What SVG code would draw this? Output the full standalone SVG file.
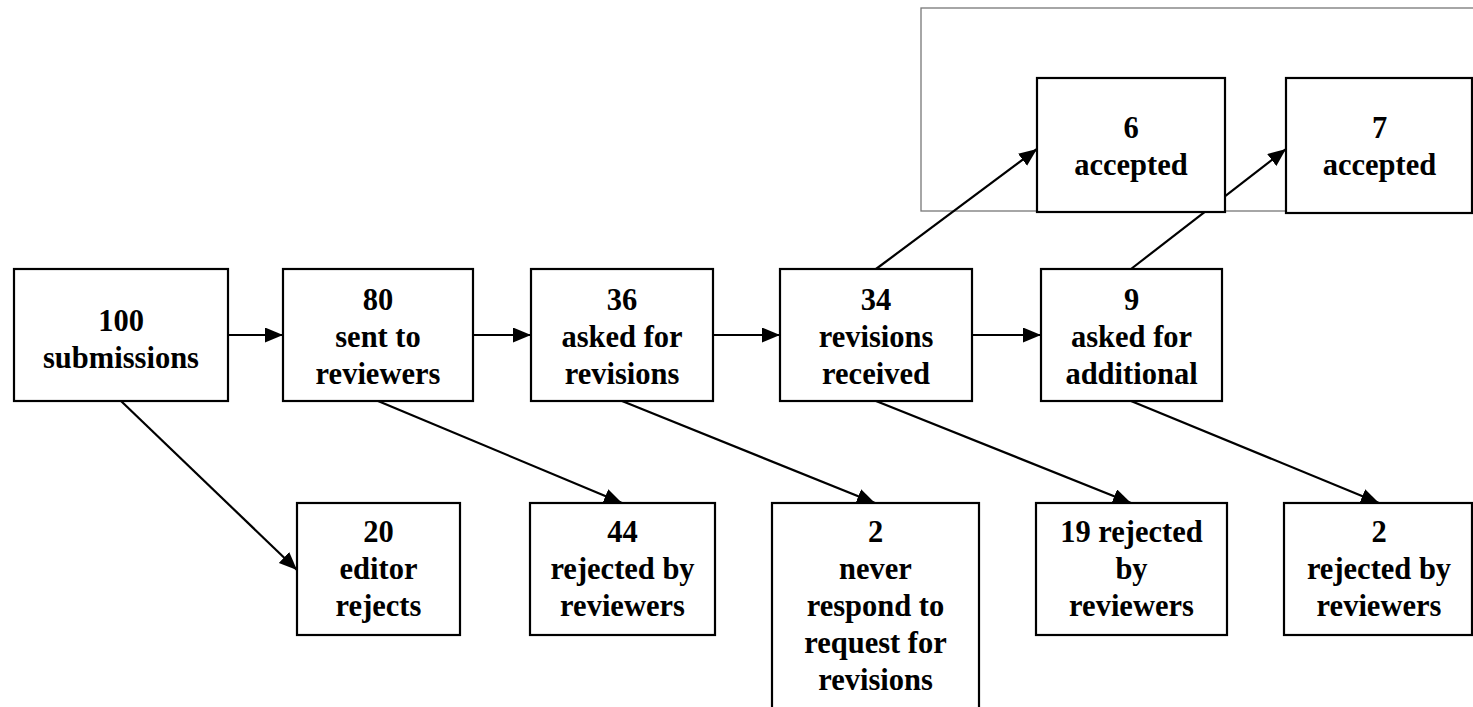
<svg xmlns="http://www.w3.org/2000/svg" width="1473" height="707" viewBox="0 0 1473 707">
<defs>
<marker id="ah" markerUnits="userSpaceOnUse" markerWidth="20" markerHeight="16" refX="18" refY="7.5" orient="auto">
<path d="M0,0 L18,7.5 L0,15 z" fill="#000"/>
</marker>
<style>
.box{fill:#fff;stroke:#000;stroke-width:2.2}
.frame{fill:none;stroke:#777;stroke-width:1.3}
.c{stroke:#000;stroke-width:2.2;fill:none;marker-end:url(#ah)}
.t{font-family:"Liberation Serif","Times New Roman",serif;font-size:30.5px;font-weight:bold;fill:#000;text-anchor:middle}
</style>
</defs>
<rect width="1473" height="707" fill="#fff"/>
<rect class="frame" x="921" y="8" width="560" height="203"/>
<g id="connectors">
<line class="c" x1="228" y1="335" x2="283" y2="335"/>
<line class="c" x1="473" y1="335" x2="531" y2="335"/>
<line class="c" x1="713" y1="335" x2="780" y2="335"/>
<line class="c" x1="972" y1="335" x2="1041" y2="335"/>
<line class="c" x1="121" y1="401" x2="297" y2="570"/>
<line class="c" x1="378" y1="401" x2="622" y2="503"/>
<line class="c" x1="622" y1="401" x2="875" y2="503"/>
<line class="c" x1="876" y1="401" x2="1131" y2="503"/>
<line class="c" x1="1131" y1="401" x2="1379" y2="503"/>
<line class="c" x1="876" y1="269" x2="1037" y2="149"/>
<line class="c" x1="1131" y1="269" x2="1286" y2="149"/>
</g>
<g id="n100">
<rect class="box" x="14" y="269" width="214" height="132"/>
<text class="t" x="121" y="331">100</text>
<text class="t" x="121" y="368">submissions</text>
</g>
<g id="n80">
<rect class="box" x="283" y="269" width="190" height="132"/>
<text class="t" x="378" y="310">80</text>
<text class="t" x="378" y="347">sent to</text>
<text class="t" x="378" y="384">reviewers</text>
</g>
<g id="n36">
<rect class="box" x="531" y="269" width="182" height="132"/>
<text class="t" x="622" y="310">36</text>
<text class="t" x="622" y="347">asked for</text>
<text class="t" x="622" y="384">revisions</text>
</g>
<g id="n34">
<rect class="box" x="780" y="269" width="192" height="132"/>
<text class="t" x="876" y="310">34</text>
<text class="t" x="876" y="347">revisions</text>
<text class="t" x="876" y="384">received</text>
</g>
<g id="n9">
<rect class="box" x="1041" y="269" width="181" height="132"/>
<text class="t" x="1131.5" y="310">9</text>
<text class="t" x="1131.5" y="347">asked for</text>
<text class="t" x="1131.5" y="384">additional</text>
</g>
<g id="n6">
<rect class="box" x="1037" y="78" width="188" height="134"/>
<text class="t" x="1131" y="138">6</text>
<text class="t" x="1131" y="175">accepted</text>
</g>
<g id="n7">
<rect class="box" x="1286" y="78" width="186" height="135"/>
<text class="t" x="1379.5" y="138">7</text>
<text class="t" x="1379.5" y="175">accepted</text>
</g>
<g id="n20">
<rect class="box" x="297" y="503" width="163" height="132"/>
<text class="t" x="378.5" y="542">20</text>
<text class="t" x="378.5" y="579">editor</text>
<text class="t" x="378.5" y="616">rejects</text>
</g>
<g id="n44">
<rect class="box" x="530" y="503" width="185" height="132"/>
<text class="t" x="622.5" y="542">44</text>
<text class="t" x="622.5" y="579">rejected by</text>
<text class="t" x="622.5" y="616">reviewers</text>
</g>
<g id="n2never">
<rect class="box" x="772" y="503" width="207" height="220"/>
<text class="t" x="875.5" y="542">2</text>
<text class="t" x="875.5" y="579">never</text>
<text class="t" x="875.5" y="616">respond to</text>
<text class="t" x="875.5" y="653">request for</text>
<text class="t" x="875.5" y="690">revisions</text>
</g>
<g id="n19">
<rect class="box" x="1036" y="503" width="191" height="132"/>
<text class="t" x="1131.5" y="542">19 rejected</text>
<text class="t" x="1131.5" y="579">by</text>
<text class="t" x="1131.5" y="616">reviewers</text>
</g>
<g id="n2rej">
<rect class="box" x="1284" y="503" width="188" height="132"/>
<text class="t" x="1379" y="542">2</text>
<text class="t" x="1379" y="579">rejected by</text>
<text class="t" x="1379" y="616">reviewers</text>
</g>
</svg>
